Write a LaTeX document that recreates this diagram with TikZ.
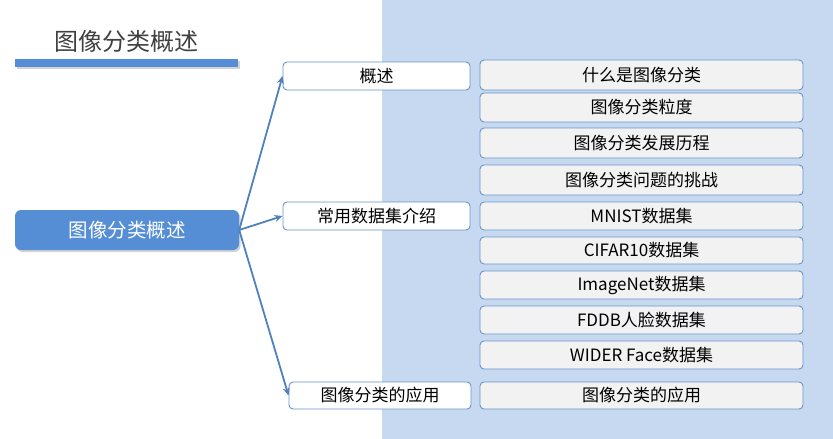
\documentclass[tikz,border=0pt]{standalone}
\usepackage{fontspec}
\setmainfont{Noto Sans CJK SC}
\usetikzlibrary{shadows,arrows.meta}
\definecolor{panel}{HTML}{C6D9F0}
\definecolor{mainblue}{HTML}{558ED5}
\definecolor{edgeblue}{HTML}{6A93C9}
\definecolor{arrowblue}{HTML}{4F81BD}
\definecolor{boxfill}{HTML}{F2F2F2}
\tikzset{
  lvlone/.style={draw=edgeblue, line width=0.9pt, fill=white, rounded corners=4pt, inner sep=0pt, font=\fontsize{17}{19}\selectfont, text=black},
  lvltwo/.style={draw=edgeblue, line width=0.9pt, fill=boxfill, rounded corners=4pt, inner sep=0pt, minimum width=323pt, font=\fontsize{17}{19}\selectfont, text=black},
  mainbox/.style={fill=mainblue, rounded corners=6pt, inner sep=0pt, minimum width=224pt, minimum height=40pt, text=white, font=\fontsize{19.5}{21}\selectfont, drop shadow={opacity=0.35, shadow xshift=1.5pt, shadow yshift=-2pt}},
  arr/.style={draw=arrowblue, line width=1.8pt, -{Stealth[length=8pt,width=7pt]}}
}
\begin{document}
\begin{tikzpicture}[x=1pt,y=-1pt]
\useasboundingbox (0,0) rectangle (833,439);
\fill[panel] (382,0) rectangle (833,439);
\node[text=black!75, font=\fontsize{24}{26}\selectfont] (title) at (126,41) {图像分类概述};
\fill[mainblue, drop shadow={opacity=0.35, shadow xshift=1.5pt, shadow yshift=-2pt}] (15,59) rectangle (238,67);
\node[mainbox] (main) at (127,230) {图像分类概述};
\node[lvlone, minimum width=187pt, minimum height=28pt] (a) at (376.5,76) {概述};
\node[lvlone, minimum width=187pt, minimum height=28pt] (b) at (376.5,216) {常用数据集介绍};
\node[lvlone, minimum width=182pt, minimum height=27pt] (c) at (380,395.5) {图像分类的应用};
\node[lvltwo, minimum height=30pt] (r1) at (641.5,75) {什么是图像分类};
\node[lvltwo, minimum height=29pt] (r2) at (641.5,107.5) {图像分类粒度};
\node[lvltwo, minimum height=30pt] (r3) at (641.5,143) {图像分类发展历程};
\node[lvltwo, minimum height=30pt] (r4) at (641.5,180) {图像分类问题的挑战};
\node[lvltwo, minimum height=28pt] (r5) at (641.5,216) {MNIST数据集};
\node[lvltwo, minimum height=27pt] (r6) at (641.5,250.5) {CIFAR10数据集};
\node[lvltwo, minimum height=28pt] (r7) at (641.5,285) {ImageNet数据集};
\node[lvltwo, minimum height=28pt] (r8) at (641.5,320) {FDDB人脸数据集};
\node[lvltwo, minimum height=28pt] (r9) at (641.5,355) {WIDER Face数据集};
\node[lvltwo, minimum height=27pt] (r10) at (641.5,395.5) {图像分类的应用};
\draw[arr] (main.east) -- (a.west);
\draw[arr] (main.east) -- (b.west);
\draw[arr] (main.east) -- (c.west);
\end{tikzpicture}
\end{document}
